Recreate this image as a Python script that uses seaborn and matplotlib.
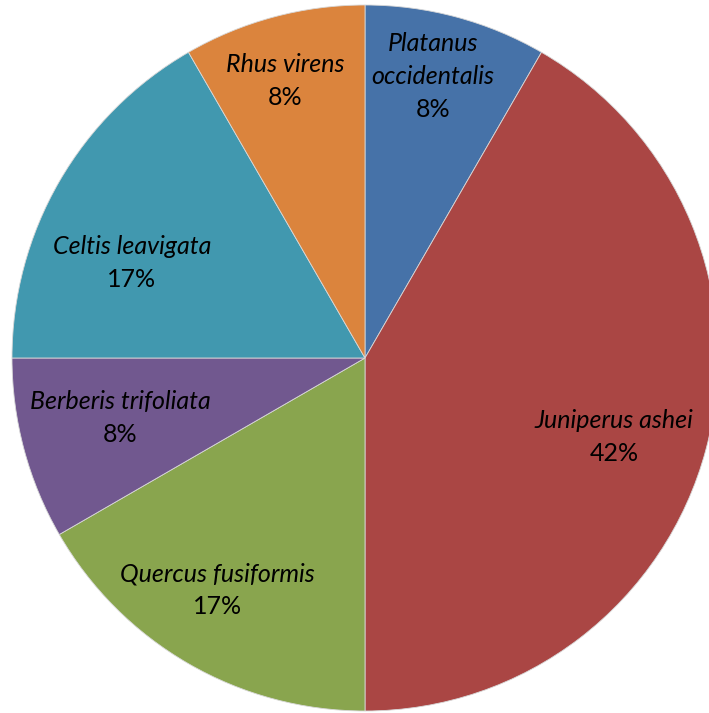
import numpy as np
import matplotlib.pyplot as plt
import seaborn as sns

# species counts (12 plants in total)
species = ["Platanus\noccidentalis", "Juniperus ashei", "Quercus fusiformis",
           "Berberis trifoliata", "Celtis leavigata", "Rhus virens"]
counts = [1, 5, 2, 1, 2, 1]
colors = ["#4672A8", "#AA4644", "#89A54E", "#71588F", "#4198AF", "#DB843D"]

sns.set_theme(style="white")
plt.rcParams['font.family'] = ['Lato', 'DejaVu Sans']

fig = plt.figure(figsize=(7.09, 7.13), dpi=100)
ax = fig.add_axes([0, 0, 1, 1])

wedges, _ = ax.pie(counts, colors=sns.color_palette(colors), startangle=90,
                   counterclock=False, radius=1,
                   wedgeprops=dict(edgecolor="#d8d8d8", linewidth=0.6))

# label placement: (distance from centre, angle shift in degrees)
label_adj = [(0.82, 1.4), (0.74, -2.5), (0.78, -2.5), (0.714, -1.2), (0.713, 7.8), (0.817, 1)]
step = 33 / 353  # line spacing in data units
total = sum(counts)
for w, name, c, (dist, shift) in zip(wedges, species, counts, label_adj):
    ang = np.deg2rad((w.theta1 + w.theta2) / 2 + shift)
    x, y = dist * np.cos(ang), dist * np.sin(ang)
    lines = name.split("\n")
    n = len(lines) + 1
    top = y + (n - 1) / 2 * step
    for i, line in enumerate(lines):
        ax.text(x, top - i * step, line, ha="center", va="center", fontsize=18,
                style="italic", color="black")
    ax.text(x, top - (n - 1) * step, f"{100 * c / total:.0f}%", ha="center",
            va="center", fontsize=18, color="black")

ax.set_xlim(-365 / 353, (709 - 365) / 353)
ax.set_ylim(-355 / 353, 358 / 353)
ax.set_aspect("auto")
ax.axis("off")

fig.savefig("out.png", dpi=100)
